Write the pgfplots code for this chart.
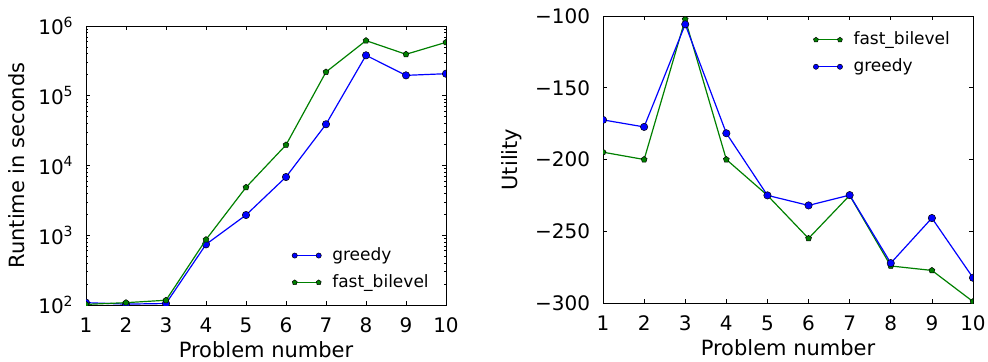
\documentclass[border=0pt]{standalone}
\usepackage{fontspec}
\setmainfont{DejaVu Sans}
\setsansfont{DejaVu Sans}
\usepackage{pgfplots}
\pgfplotsset{compat=1.18}
\definecolor{mblue}{rgb}{0,0,1}
\definecolor{mgreen}{rgb}{0,0.5,0}
\begin{document}
\fontsize{20bp}{24bp}\selectfont
\begin{tikzpicture}
\path[use as bounding box] (0bp,0bp) rectangle (988bp,-362bp);
\pgfplotsset{
  every axis/.append style={
    scale only axis,
    axis line style={line width=0.8bp},
    every tick/.style={black, line width=0.6bp},
    major tick length=4bp, minor tick length=2bp,
    tick align=inside, xtick pos=both, ytick pos=both,
    font=\fontsize{20bp}{24bp}\selectfont,
    tick label style={font=\fontsize{20bp}{24bp}\selectfont},
    xticklabel style={yshift=-6bp},
    yticklabel style={xshift=-6bp},
    label style={font=\fontsize{21bp}{25bp}\selectfont},
    xlabel style={yshift=5bp},
    xtick={1,...,10},
    xticklabels={1,2,3,4,5,6,7,8,9,10},
    legend cell align=left,
    clip marker paths=true,
  },
  legend image code/.code={\draw[#1, mark size=2.6bp] plot coordinates {(0bp,0bp) (24bp,0bp)}; \path (35bp,0bp);},
  gre/.style={color=mblue, line width=1.2bp, mark=*, mark size=3.7bp, mark options={fill=mblue, draw=black, line width=0.5bp}},
  fbl/.style={color=mgreen, line width=1.2bp, mark=pentagon*, mark size=3.1bp, mark options={fill=mgreen, draw=black, line width=0.5bp}},
}
\begin{axis}[
  at={(86bp,-305bp)}, anchor=south west,
  width=360bp, height=279bp,
  xmin=1, xmax=10,
  ymode=log, ymin=100, ymax=1e6,
  ytick={1e2,1e3,1e4,1e5,1e6},
  yticklabels={10\textsuperscript{2},10\textsuperscript{3},10\textsuperscript{4},10\textsuperscript{5},10\textsuperscript{6}},
  minor ytick={200,300,400,500,600,700,800,900,2000,3000,4000,5000,6000,7000,8000,9000,20000,30000,40000,50000,60000,70000,80000,90000,200000,300000,400000,500000,600000,700000,800000,900000},
  xlabel={Problem number}, ylabel={Runtime in seconds},
  legend style={draw=none, fill=none, at={(0.572,0.129)}, anchor=west, inner sep=0pt, row sep=7bp, font=\fontsize{17bp}{20bp}\selectfont},
]
\addplot[gre] coordinates {(1,108) (2,103) (3,105) (4,740) (5,1950) (6,6840) (7,39000) (8,380000) (9,196000) (10,207000)};
\addlegendentry{greedy}
\addplot[fbl] coordinates {(1,102) (2,108) (3,117) (4,865) (5,4860) (6,19700) (7,219000) (8,617000) (9,393000) (10,583000)};
\addlegendentry{fast\_bilevel}
\end{axis}
\begin{axis}[
  at={(603bp,-303bp)}, anchor=south west,
  width=370bp, height=287bp,
  xmin=1, xmax=10,
  ymin=-300, ymax=-100,
  ytick={-300,-250,-200,-150,-100},
  yticklabels={−300,−250,−200,−150,−100},
  xlabel={Problem number}, ylabel={Utility},
  legend style={draw=none, fill=none, at={(0.568,0.870)}, anchor=west, inner sep=0pt, row sep=7bp, font=\fontsize{17bp}{20bp}\selectfont},
]
\addplot[fbl] coordinates {(1,-194.9) (2,-200) (3,-102.3) (4,-200) (5,-225) (6,-255) (7,-225) (8,-274.2) (9,-277.3) (10,-299)};
\addlegendentry{fast\_bilevel}
\addplot[gre] coordinates {(1,-172.4) (2,-177.3) (3,-105.8) (4,-181.7) (5,-225) (6,-232) (7,-224.8) (8,-272.2) (9,-240.8) (10,-282.4)};
\addlegendentry{greedy}
\end{axis}
\end{tikzpicture}
\end{document}
